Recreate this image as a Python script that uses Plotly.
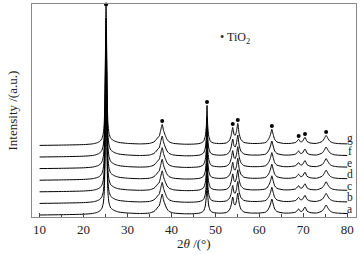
import plotly.graph_objects as go

# ---- data ----
samples = ["a", "b", "c", "d", "e", "f", "g"]
offsets = [0, 11.6, 23.2, 34.8, 46.4, 58.0, 69.6]

two_theta = [10, 15, 20, 22, 23, 23.7, 24.2, 24.5, 24.7, 24.85, 24.95, 25.05, 25.12,
             25.2, 25.3, 25.4, 25.55, 25.8, 26.2, 27, 28, 30, 33, 35, 36, 36.6, 36.9,
             37.2, 37.5, 37.9, 38.2, 38.6, 39.0, 39.5, 40.5, 43, 45, 46.5, 47.3, 47.7,
             47.95, 48.1, 48.25, 48.5, 48.9, 49.5, 51, 52.5, 53.2, 53.6, 53.95, 54.25,
             54.5, 54.8, 55.1, 55.4, 55.8, 56.5, 58, 60, 61.5, 62.2, 62.55, 62.85, 63.15,
             63.5, 64, 65.5, 67, 68.3, 68.95, 69.4, 69.8, 70.4, 70.85, 71.5, 73, 74.3,
             74.8, 75.2, 75.6, 76.1, 76.8, 78, 80]
intensity = [0, 0.3, 0.8, 1.5, 2.5, 4, 7, 12, 22, 45, 80, 120, 139,
             120, 80, 45, 22, 12, 7, 4.5, 3, 2, 1.5, 2, 3.5, 6, 8,
             9, 14, 21, 15, 10, 6, 3.5, 2, 1.2, 1.3, 2, 4, 9,
             20, 40, 20, 9, 4, 2.5, 1.8, 2.5, 5, 10, 18, 11,
             10, 14, 22, 12, 6, 3, 2, 2, 3, 7, 11, 16, 11,
             6, 3.5, 2, 2, 3, 6, 3.5, 4, 8, 4, 2.5, 2, 4,
             7, 10, 7, 4, 2.5, 1.8, 1.5]

tio2_peaks = [25.12, 37.9, 48.1, 53.95, 55.1, 62.85, 68.95, 70.4, 75.2]
tio2_marks = [141, 24.5, 43.5, 21.5, 25.5, 19.5, 9.5, 11.5, 13.5]

x_ticks = [10, 20, 30, 40, 50, 60, 70, 80]

serif = "Liberation Serif, Times New Roman, serif"
txt = "#222"

fig = go.Figure()
for name, off in zip(samples, offsets):
    fig.add_trace(go.Scatter(
        x=two_theta, y=[v + off for v in intensity], mode="lines",
        line=dict(color="black", width=1, shape="spline", smoothing=0.6),
        showlegend=False, hoverinfo="skip"))
    fig.add_annotation(x=80.6, y=off, text=name, showarrow=False,
                       xanchor="center", yanchor="bottom", yshift=-2,
                       font=dict(family=serif, size=11.5, color=txt))

fig.add_trace(go.Scatter(
    x=tio2_peaks, y=[m + offsets[-1] for m in tio2_marks], mode="markers",
    marker=dict(color="black", size=4), showlegend=False, hoverinfo="skip",
    cliponaxis=False))

fig.add_annotation(x=0.625, y=0.84, xref="paper", yref="paper",
                   text="• TiO<sub>2</sub>", showarrow=False,
                   xanchor="center", yanchor="middle",
                   font=dict(family=serif, size=12, color=txt))

# axis titles
fig.add_annotation(x=0.5, y=0, xref="paper", yref="paper", yshift=-26,
                   text="2<i>θ</i> /(°)", showarrow=False,
                   xanchor="center", yanchor="middle",
                   font=dict(family=serif, size=13, color=txt))
fig.add_annotation(x=0, y=0.5, xref="paper", yref="paper", xshift=-20,
                   text="Intensity /(a.u.)", showarrow=False, textangle=-90,
                   xanchor="center", yanchor="middle",
                   font=dict(family=serif, size=13, color=txt))

axis_common = dict(showline=True, linecolor="#888", linewidth=1, mirror=True,
                   showgrid=False, zeroline=False, automargin=False)

fig.update_layout(
    width=361, height=255,
    margin=dict(l=32, r=5, t=4, b=38, autoexpand=False),
    paper_bgcolor="white", plot_bgcolor="white",
    xaxis=dict(range=[8.27, 82.0], tickvals=x_ticks, ticks="inside", ticklen=4,
               tickcolor="#444",
               minor=dict(dtick=5, tick0=10, ticks="inside", ticklen=3, tickcolor="#444"),
               tickfont=dict(family=serif, size=13, color=txt),
               **axis_common),
    yaxis=dict(range=[-2, 211], showticklabels=False, ticks="",
               **axis_common),
)

fig.write_html("out.html", config={"displayModeBar": False},
               post_script="document.body.style.margin='0';document.body.style.overflow='hidden';")
